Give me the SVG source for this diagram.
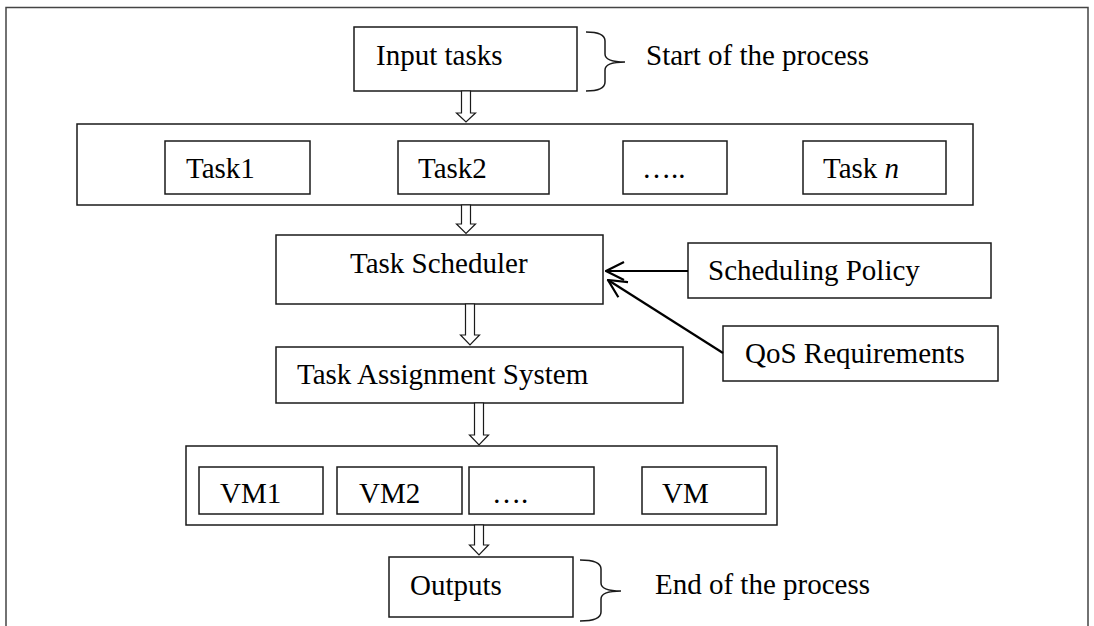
<svg xmlns="http://www.w3.org/2000/svg" width="1094" height="626" viewBox="0 0 1094 626">
<style>
.box{fill:#fff;stroke:#1a1a1a;stroke-width:1.5}
.t{font-family:"Liberation Serif","Times New Roman",serif;font-size:29px;fill:#000}
.blk{fill:#fff;stroke:#1a1a1a;stroke-width:1.2;stroke-linejoin:miter}
.ln{fill:none;stroke:#000;stroke-width:2.2}
.br{fill:none;stroke:#1a1a1a;stroke-width:1.5}
</style>
<defs>
<marker id="open" viewBox="0 0 20 20" refX="19" refY="10" markerWidth="20" markerHeight="20" markerUnits="userSpaceOnUse" orient="auto">
<polyline points="1,1 19,10 1,19" fill="none" stroke="#000" stroke-width="2.2"/>
</marker>
</defs>
<rect width="1094" height="626" fill="#fff"/>
<path d="M6,626 V7.5 H1088 V626" fill="none" stroke="#444" stroke-width="1.5"/>

<g id="input-tasks">
<rect class="box" x="354" y="27" width="223" height="64"/>
<text class="t" x="376" y="65">Input tasks</text>
</g>
<g id="start-label">
<path class="br" d="M586,32 Q605,32 605,41 V54 Q605,62 625,62 Q605,62 605,70 V82 Q605,91 586,91"/>
<text class="t" x="646" y="65">Start of the process</text>
</g>

<g id="tasks-row">
<rect class="box" x="77" y="124" width="896" height="81"/>
<g id="task1"><rect class="box" x="165" y="141" width="145" height="53"/><text class="t" x="186" y="178">Task1</text></g>
<g id="task2"><rect class="box" x="398" y="141" width="151" height="53"/><text class="t" x="418" y="178">Task2</text></g>
<g id="task-dots"><rect class="box" x="623" y="141" width="104" height="53"/><text class="t" x="642" y="178">…..</text></g>
<g id="taskn"><rect class="box" x="803" y="141" width="143" height="53"/><text class="t" x="823" y="178">Task <tspan font-style="italic">n</tspan></text></g>
</g>

<g id="task-scheduler">
<rect class="box" x="276" y="235" width="327" height="69"/>
<text class="t" x="350" y="273">Task Scheduler</text>
</g>

<g id="scheduling-policy">
<rect class="box" x="688" y="243" width="303" height="55"/>
<text class="t" x="708" y="280">Scheduling Policy</text>
</g>

<g id="qos">
<rect class="box" x="723" y="326" width="275" height="55"/>
<text class="t" x="745" y="363">QoS Requirements</text>
</g>

<g id="task-assignment">
<rect class="box" x="276" y="347" width="407" height="56"/>
<text class="t" x="297" y="384">Task Assignment System</text>
</g>

<g id="vm-row">
<rect class="box" x="186" y="446" width="591" height="79"/>
<g id="vm1"><rect class="box" x="199" y="467" width="124" height="47"/><text class="t" x="220" y="503">VM1</text></g>
<g id="vm2"><rect class="box" x="337" y="467" width="125" height="47"/><text class="t" x="359" y="503">VM2</text></g>
<g id="vm-dots"><rect class="box" x="469" y="467" width="125" height="47"/><text class="t" x="492" y="503">….</text></g>
<g id="vm"><rect class="box" x="642" y="467" width="124" height="47"/><text class="t" x="662" y="503">VM</text></g>
</g>

<g id="outputs">
<rect class="box" x="389" y="557" width="184" height="60"/>
<text class="t" x="410" y="595">Outputs</text>
</g>
<g id="end-label">
<path class="br" d="M580,560 Q601,560 601,569 V583 Q601,591 621,591 Q601,591 601,599 V612 Q601,621 580,621"/>
<text class="t" x="655" y="594">End of the process</text>
</g>

<g id="connectors">
<path class="blk" d="M461.5,91 V113 H456.5 L466,122 L475.5,113 H470.5 V91 Z"/>
<path class="blk" d="M461.5,205 V224 H456.5 L466,233.5 L475.5,224 H470.5 V205 Z"/>
<path class="blk" d="M465.5,304 V335 H460.5 L470,345 L479.5,335 H474.5 V304 Z"/>
<path class="blk" d="M474.5,403 V435 H469.5 L479,445 L488.5,435 H483.5 V403 Z"/>
<path class="blk" d="M474.5,525 V545 H469.5 L479,555 L488.5,545 H483.5 V525 Z"/>
<line class="ln" x1="688" y1="271" x2="606" y2="271" marker-end="url(#open)"/>
<line class="ln" x1="723" y1="353" x2="608" y2="280" marker-end="url(#open)"/>
</g>
</svg>
